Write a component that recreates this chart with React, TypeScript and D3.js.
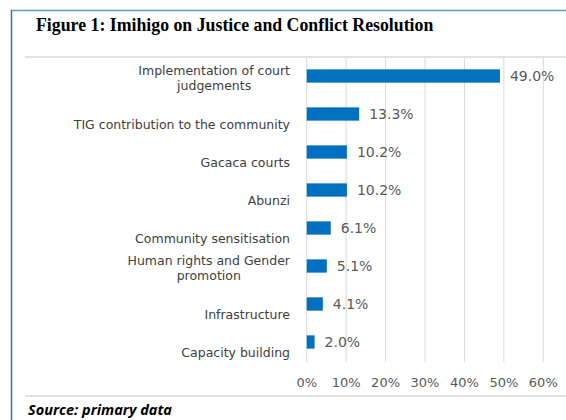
import React, { useEffect, useRef } from "react";
import * as d3 from "d3";

const categories: string[][] = [
  ["Implementation of court", "judgements"],
  ["TIG contribution to the community"],
  ["Gacaca courts"],
  ["Abunzi"],
  ["Community sensitisation"],
  ["Human rights and Gender", "promotion"],
  ["Infrastructure"],
  ["Capacity building"],
];
const values: number[] = [0.49, 0.133, 0.102, 0.102, 0.061, 0.051, 0.041, 0.02];
const ticks: number[] = [0, 0.1, 0.2, 0.3, 0.4, 0.5, 0.6];
const title = "Figure 1: Imihigo on Justice and Conflict Resolution";
const source = "Source: primary data";

const W = 566;
const H = 420;

export default function App() {
  const ref = useRef<SVGSVGElement | null>(null);

  useEffect(() => {
    const svg = d3.select(ref.current);
    svg.selectAll("*").remove();

    const keys = categories.map((c) => c.join(" "));
    const x = d3.scaleLinear().domain([0, 0.6]).range([306.7, 543.3]);
    const y = d3
      .scaleBand<string>()
      .domain(keys)
      .range([57, 361])
      .paddingInner(0.65)
      .paddingOuter(0.325);

    // outer frame
    svg.append("line").attr("x1", 11).attr("x2", W).attr("y1", 10.5).attr("y2", 10.5)
      .attr("stroke", "#5b9bd5").attr("stroke-width", 1.5);
    svg.append("line").attr("x1", 11.5).attr("x2", 11.5).attr("y1", 10).attr("y2", H)
      .attr("stroke", "#2e75b6").attr("stroke-width", 1.5);

    // chart area border lines
    svg.append("line").attr("x1", 25).attr("x2", W).attr("y1", 57).attr("y2", 57)
      .attr("stroke", "#d9d9d9").attr("stroke-width", 1.5);
    svg.append("line").attr("x1", 25).attr("x2", W).attr("y1", 396).attr("y2", 396)
      .attr("stroke", "#d9d9d9").attr("stroke-width", 1.5);

    // title
    svg.append("text").attr("x", 36).attr("y", 25).attr("dominant-baseline", "central")
      .attr("font-family", "Liberation Serif").attr("font-weight", "bold")
      .attr("font-size", 17.8).attr("fill", "#000").text(title);

    // gridlines
    svg.append("g").selectAll("line").data(ticks).join("line")
      .attr("x1", (d) => x(d)).attr("x2", (d) => x(d))
      .attr("y1", 58).attr("y2", 362)
      .attr("stroke", "#d9d9d9").attr("stroke-width", 1);

    // tick labels
    svg.append("g").selectAll("text").data(ticks).join("text")
      .attr("x", (d) => x(d)).attr("y", 382)
      .attr("text-anchor", "middle").attr("dominant-baseline", "central")
      .attr("font-family", "DejaVu Sans").attr("font-size", 13).attr("fill", "#595959")
      .text((d) => d3.format(".0%")(d));

    // bars
    svg.append("g").selectAll("rect").data(values).join("rect")
      .attr("x", x(0)).attr("y", (_, i) => y(keys[i])!)
      .attr("width", (d) => x(d) - x(0)).attr("height", y.bandwidth())
      .attr("fill", "#0070c0");

    // value labels
    svg.append("g").selectAll("text").data(values).join("text")
      .attr("x", (d) => x(d) + 10).attr("y", (_, i) => y(keys[i])! + y.bandwidth() / 2)
      .attr("dominant-baseline", "central")
      .attr("font-family", "DejaVu Sans").attr("font-size", 14).attr("fill", "#595959")
      .text((d) => d3.format(".1%")(d));

    // category labels
    const gl = svg.append("g");
    categories.forEach((lines, i) => {
      const cy = y(keys[i])! + y.bandwidth() / 2;
      const g = gl.append("g");
      const texts = lines.map((ln, j) => {
        const dy = lines.length === 1 ? 10 : j === 0 ? -5.5 : 9;
        return g.append("text").attr("y", cy + dy).attr("dominant-baseline", "central")
          .attr("font-family", "DejaVu Sans").attr("font-size", 12.5).attr("fill", "#404040")
          .attr("text-anchor", "middle").text(ln);
      });
      const widths = texts.map((t) => (t.node() as SVGTextElement).getComputedTextLength());
      const maxW = Math.max(...widths);
      texts.forEach((t) => t.attr("x", 290 - maxW / 2));
    });

    // source
    svg.append("text").attr("x", 28).attr("y", 409).attr("dominant-baseline", "central")
      .attr("font-family", "Open Sans").attr("font-weight", "bold").attr("font-style", "italic")
      .attr("font-size", 14.5).attr("fill", "#000").text(source);
  }, []);

  return (
    <svg
      ref={ref}
      width={W}
      height={H}
      style={{ position: "absolute", left: 0, top: 0, background: "#fff" }}
    />
  );
}
